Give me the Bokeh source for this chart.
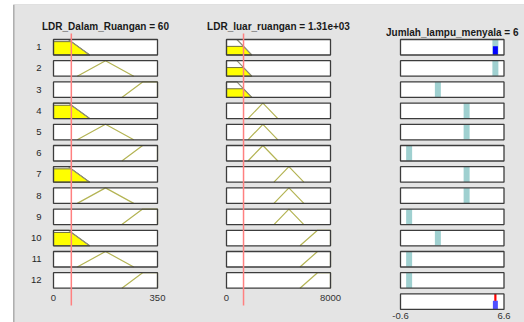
import numpy as np
from bokeh.plotting import figure
from bokeh.models import Range1d, Span
from bokeh.core.properties import value
from bokeh.embed import file_html
from bokeh.resources import INLINE

# ---------------- data ----------------
input_names = ["LDR_Dalam_Ruangan", "LDR_luar_ruangan"]
input_values = [60, 1310]
input_value_labels = ["60", "1.31e+03"]
output_name = "Jumlah_lampu_menyala"
output_value_label = "6"
input_domains = [[0, 350], [0, 8000]]
output_domain = [-0.6, 6.6]
tick_labels = [["0", "350"], ["0", "8000"], ["-0.6", "6.6"]]
# membership functions as trapezoids [a, b, c, d] (triangles have b == c)
mf_in1 = [[0, 0, 50, 122], [80, 175, 175, 270], [230, 300, 350, 350]]
mf_in2 = [[0, 0, 800, 1950], [1650, 2800, 2800, 3950],
          [3650, 4800, 4800, 5950], [5650, 7000, 8000, 8000]]
rule_in1 = [0, 1, 2, 0, 1, 2, 0, 1, 2, 0, 1, 2]
rule_in2 = [0, 0, 0, 1, 1, 1, 2, 2, 2, 3, 3, 3]
rule_out = [6, 6, 2, 4, 4, 0, 4, 4, 0, 2, 0, 0]
rule_ids = [str(i) for i in range(1, 13)]

# ---------------- layout ----------------
FW, FH = 524, 322
BL = 13                     # white strip at left
BT = 4                      # white strip at top
FRAME_W = FW - BL
FRAME_H = FH - BT
PAGE_X0 = BL
PAGE_Y0 = BT
col_px = [(53, 157), (226, 330), (400, 503.5)]
PITCH = 21.2
ROW1_C = 46.75
BOX_H = 15.5
HH = BOX_H / 2 / PITCH

BG = "#e4e4e4"
FONT = "Liberation Sans"


def col_range(lo, hi, L, R):
    s = (R - L) / (hi - lo)
    start = lo - (L - PAGE_X0) / s
    return Range1d(start, start + FRAME_W / s)


domains = input_domains + [output_domain]
ranges = [col_range(d[0], d[1], *col_px[i]) for i, d in enumerate(domains)]
y_end = -1 + (ROW1_C - PAGE_Y0) / PITCH
y_range = Range1d(y_end - FRAME_H / PITCH, y_end)

p = figure(width=FW, height=FH, x_range=ranges[0], y_range=y_range,
           x_axis_type=None, y_axis_type=None, toolbar_location=None,
           output_backend="svg", min_border_left=BL, min_border_right=0,
           min_border_top=BT, min_border_bottom=0,
           background_fill_color=BG, border_fill_color="white",
           outline_line_color=None)
p.extra_x_ranges = {"c2": ranges[1], "c3": ranges[2]}
p.grid.visible = False
rnames = ["default", "c2", "c3"]


def mu(x, q):
    a, b, c, d = q
    if x < a or x > d:
        return 0.0
    if x < b:
        return (x - a) / (b - a)
    if x <= c:
        return 1.0
    if x < d:
        return (d - x) / (d - c)
    return 1.0 if c == d else 0.0


n = len(rule_out)
rows = np.arange(1, n + 1)
centers = -rows.astype(float)
bottoms = centers - HH

# ------------- boxes (white fill) -------------
for ci in range(3):
    nrows = n + 1 if ci == 2 else n
    ys = -np.arange(1, nrows + 1, dtype=float)
    lo, hi = domains[ci]
    p.rect(x=[(lo + hi) / 2] * nrows, y=ys, width=hi - lo, height=2 * HH,
           fill_color="white", line_color=None, x_range_name=rnames[ci])

# ------------- input membership functions -------------
mu_in = []
for ci, (mfs, rmap) in enumerate([(mf_in1, rule_in1), (mf_in2, rule_in2)]):
    xin = input_values[ci]
    xs_l, ys_l, cols_l = [], [], []
    fx, fy = [], []
    mus = []
    for r in range(n):
        a, b, c, d = mfs[rmap[r]]
        bt = bottoms[r]
        h = mu(xin, mfs[rmap[r]])
        mus.append(h)
        xs_l.append([a, b, c, d])
        ys_l.append([bt, bt + 2 * HH, bt + 2 * HH, bt])
        cols_l.append("#8f8f78" if h > 0 else "#b4b454")
        if h > 0:
            fx.append([a, a + h * (b - a), d - h * (d - c), d])
            fy.append([bt, bt + h * 2 * HH, bt + h * 2 * HH, bt])
    mu_in.append(mus)
    if fx:
        p.patches(fx, fy, fill_color="#ffff00", line_color="#707040",
                  line_width=1, x_range_name=rnames[ci])
    p.multi_line(xs_l, ys_l, line_color=cols_l, line_width=1.2,
                 x_range_name=rnames[ci])

firing = [min(mu_in[0][r], mu_in[1][r]) for r in range(n)]

# ------------- output singletons -------------
p.rect(x=rule_out, y=centers, width=6, width_units="screen",
       height=2 * HH - 0.02, fill_color="#9fd0d0", line_color=None,
       x_range_name="c3")
fr = [r for r in range(n) if firing[r] > 0]
p.rect(x=[rule_out[r] for r in fr],
       y=[bottoms[r] + firing[r] * HH for r in fr],
       width=5, width_units="screen",
       height=[firing[r] * 2 * HH for r in fr],
       fill_color="#0000ff", line_color=None, x_range_name="c3")

# aggregate row
wsum = sum(firing)
zout = sum(w * z for w, z in zip(firing, rule_out)) / wsum
agg_c = -(n + 1.0)
agg_b = agg_c - HH
p.segment(x0=[zout], y0=[agg_b], x1=[zout], y1=[agg_b + 2 * HH],
          line_color="#ff0000", line_width=2.2, x_range_name="c3")
wmax = max(firing)
p.rect(x=[zout], y=[agg_b + wmax * HH], width=5, width_units="screen",
       height=wmax * 2 * HH, fill_color="#5050ff", line_color=None,
       x_range_name="c3")

# ------------- box outlines -------------
for ci in range(3):
    nrows = n + 1 if ci == 2 else n
    ys = -np.arange(1, nrows + 1, dtype=float)
    lo, hi = domains[ci]
    p.rect(x=[(lo + hi) / 2] * nrows, y=ys, width=hi - lo, height=2 * HH,
           fill_color=None, line_color="#3c3c3c", line_width=1.3,
           x_range_name=rnames[ci])

# ------------- input value lines -------------
for ci in range(2):
    xin = input_values[ci]
    p.segment(x0=[xin], y0=[-1 + HH + 0.28], x1=[xin], y1=[-n - 1.18],
              line_color="#ff8080", line_width=1.5, x_range_name=rnames[ci])

# ------------- texts -------------
p.text(x=[input_domains[0][0]] * n, y=centers, text=rule_ids,
       text_align="right", text_baseline="middle", x_offset=-12,
       text_font=value(FONT), text_font_size="9.5px", text_color="#262626")

titles = [f"{input_names[0]} = {input_value_labels[0]}",
          f"{input_names[1]} = {input_value_labels[1]}",
          f"{output_name} = {output_value_label}"]
t_off = [-21, -21, -15]
for ci in range(3):
    lo, hi = domains[ci]
    p.text(x=[(lo + hi) / 2], y=[-1.0], text=[titles[ci]], y_offset=t_off[ci],
           text_align="center", text_baseline="middle",
           text_font=value(FONT), text_font_size="10px",
           text_font_style="bold", text_color="#1a1a1a",
           x_range_name=rnames[ci])
    last = -(n + 1.0) if ci == 2 else -float(n)
    off = 14 if ci == 2 else 18
    p.text(x=domains[ci], y=[last, last], text=tick_labels[ci], y_offset=off,
           text_align="center", text_baseline="middle",
           text_font=value(FONT), text_font_size="9.5px", text_color="#333333",
           x_range_name=rnames[ci])

p.add_layout(Span(location=ranges[0].start, dimension="height",
                  line_color="#6e6e6e", line_width=1.5))
p.add_layout(Span(location=y_range.end, dimension="width",
                  line_color="#cfcfcf", line_width=1))

open("out.html", "w").write(file_html(p, INLINE))
